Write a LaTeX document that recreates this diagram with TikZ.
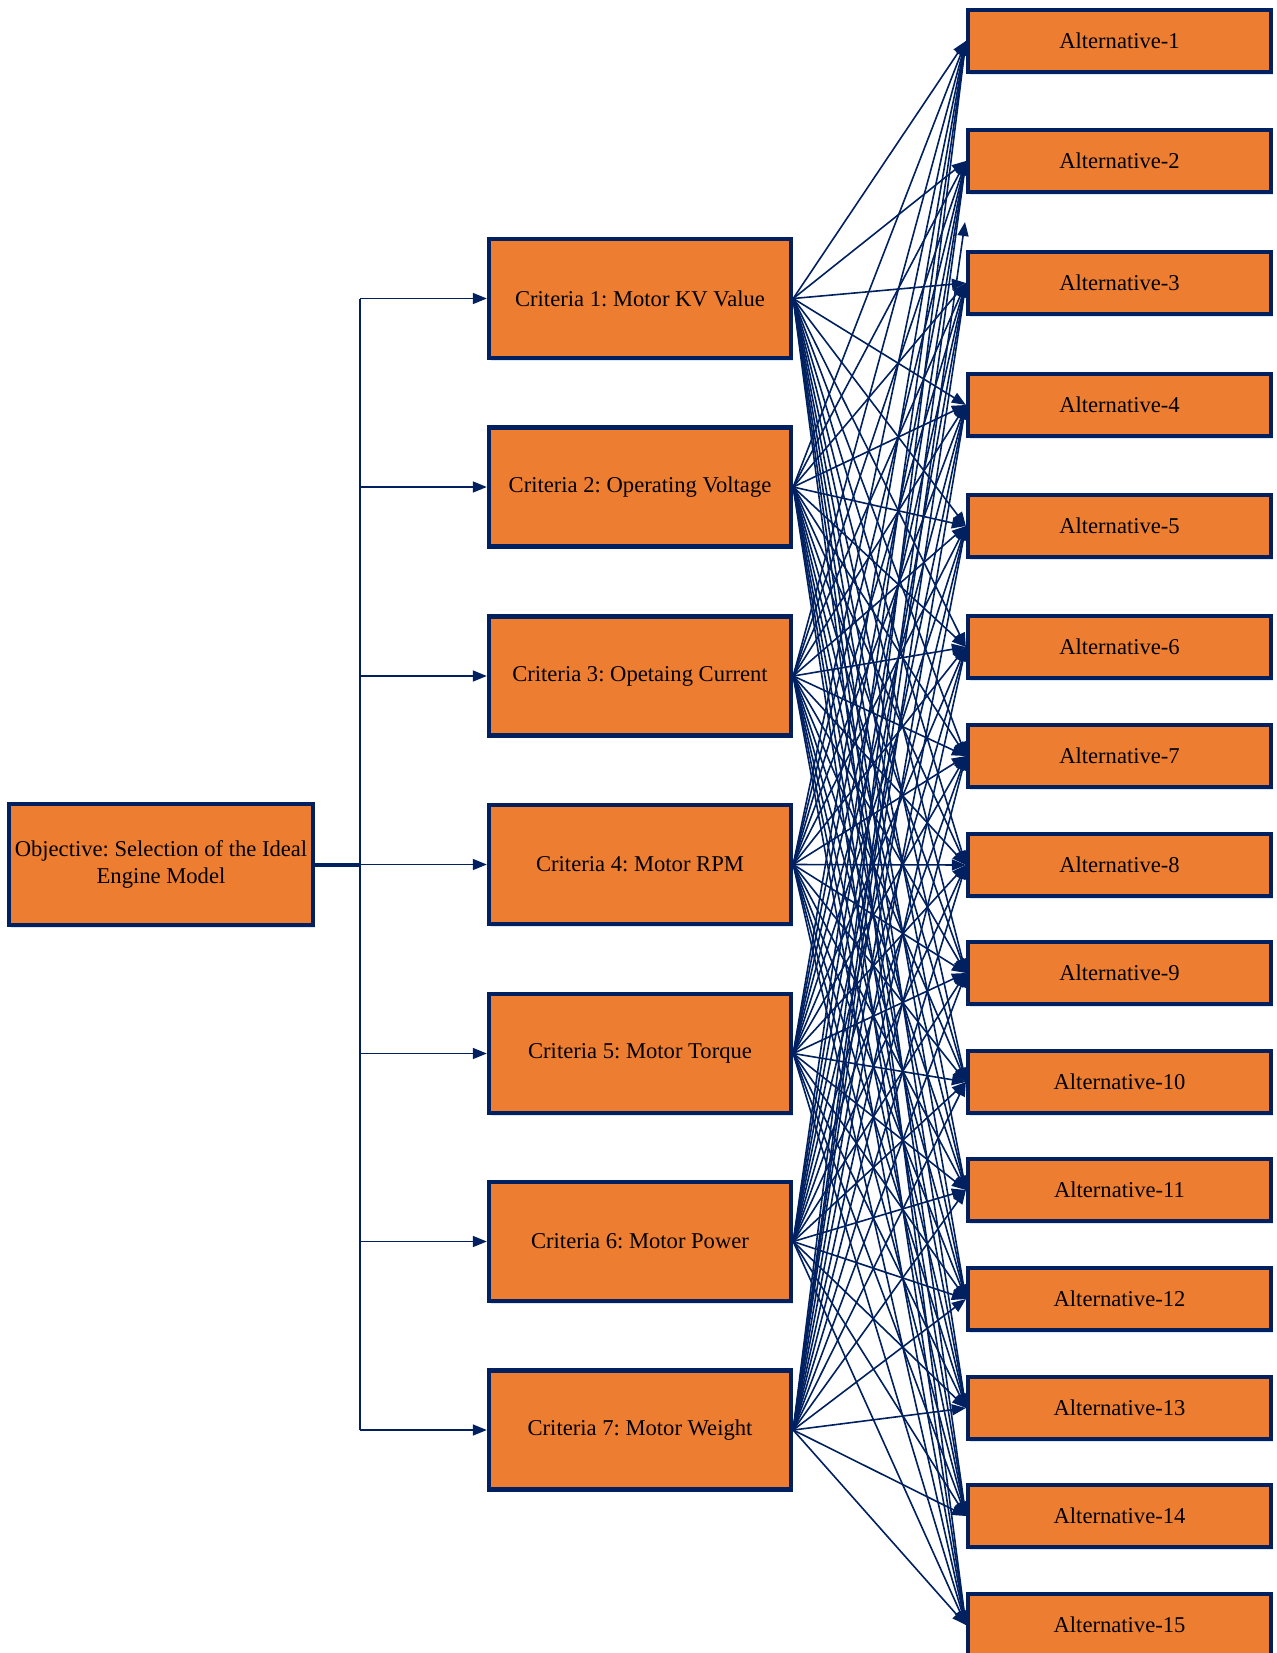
\documentclass[tikz,border=0pt]{standalone}
\usepackage{fontspec}
\setmainfont{Liberation Serif}
\usetikzlibrary{arrows.meta,shadows}
\definecolor{navy}{HTML}{002060}
\definecolor{orng}{HTML}{ED7D31}
\definecolor{shade}{HTML}{BDD7EE}
\frenchspacing
\begin{document}
\begin{tikzpicture}[x=0.5pt,y=-0.5pt,
  box/.style={draw=navy, fill=orng, line width=2.2pt, text=black,
    font=\fontsize{11.3}{13.5}\selectfont, align=center, inner sep=0pt,
    drop shadow={shadow xshift=1pt, shadow yshift=-1.5pt, fill=shade, opacity=0.6}},
  objbox/.style={box, minimum width=152pt, minimum height=60.4pt},
  critbox/.style={box, minimum width=151pt, minimum height=59.4pt},
  altbox/.style={box, minimum width=151.4pt, minimum height=31pt},
  link/.style={draw=navy, line width=0.8pt, -{Triangle[length=7pt,width=5.5pt]}},
  trunkline/.style={draw=navy, line width=0.9pt},
]
\useasboundingbox (0,0) rectangle (1276,1653);

% objective
\node[objbox] (obj) at (161,864.5) {Objective: Selection of the Ideal\\Engine Model};

% criteria
\node[critbox] (c1) at (640,298.5) {Criteria 1: Motor KV Value};
\node[critbox] (c2) at (640,487) {Criteria 2: Operating Voltage};
\node[critbox] (c3) at (640,676) {Criteria 3: Opetaing Current};
\node[critbox] (c4) at (640,864.5) {Criteria 4: Motor RPM};
\node[critbox] (c5) at (640,1053.5) {Criteria 5: Motor Torque};
\node[critbox] (c6) at (640,1241.5) {Criteria 6: Motor Power};
\node[critbox] (c7) at (640,1430) {Criteria 7: Motor Weight};

% alternatives
\foreach \i/\y in {1/41,2/161,3/283,4/405,5/526,6/647,7/756,8/865,9/973,10/1082,11/1190,12/1299,13/1408,14/1516,15/1625}
  \node[altbox] (a\i) at (1119.5,\y) {Alternative-\i};

% tree on the left
\coordinate (trunk) at (360,864.5);
\draw[draw=navy, line width=2pt] (obj.east) -- (trunk);
\draw[trunkline] (trunk |- c1.west) -- (trunk |- c7.west);
\foreach \c in {1,...,7}
  \draw[link] (trunk |- c\c.west) -- (c\c.west);

% criteria to alternatives
\foreach \c in {1,...,7}
  \foreach \a in {1,...,15}
    \draw[link] (c\c.east) -- (a\a.west);

% stray arrow
\coordinate (stray) at (965,222);
\draw[link] (c7.east) -- (stray);
\end{tikzpicture}
\end{document}
